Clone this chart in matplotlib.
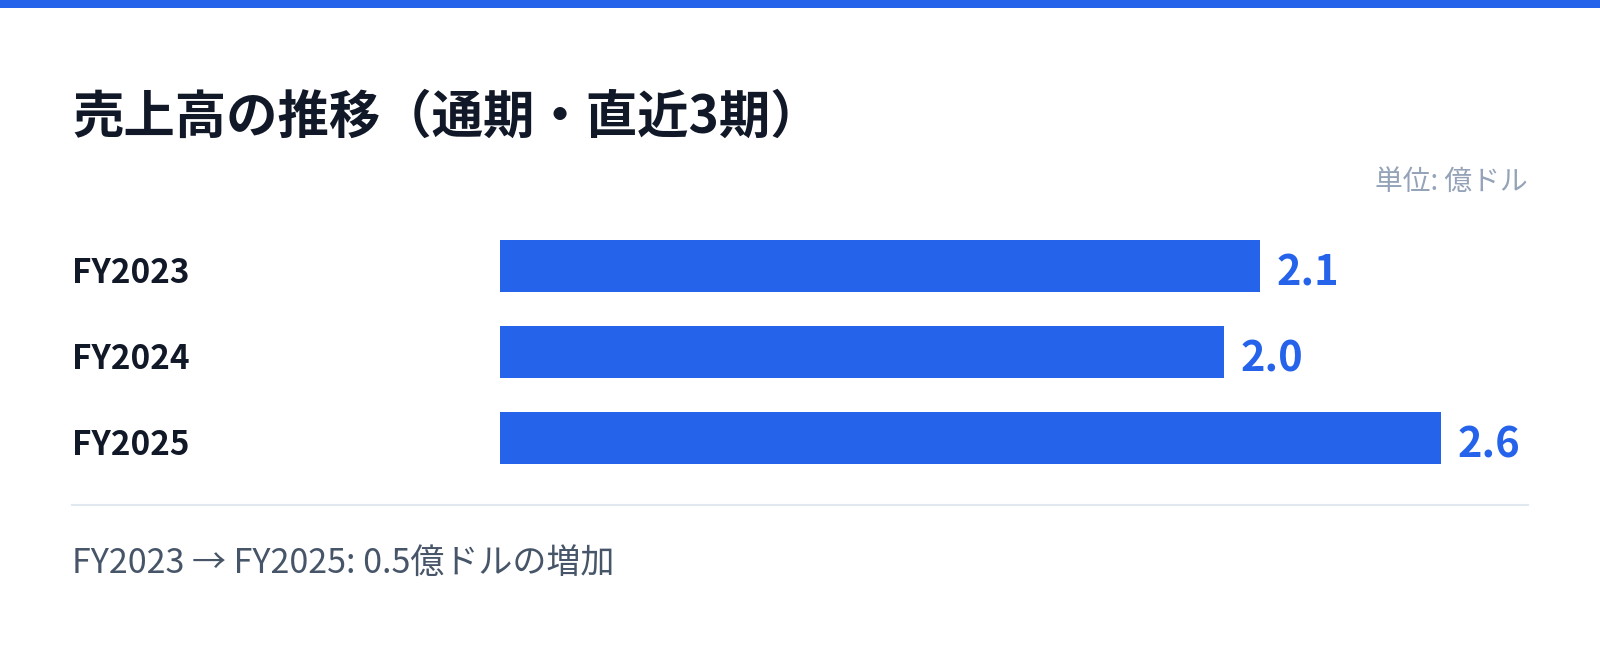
import matplotlib.pyplot as plt
from matplotlib.patches import Rectangle
from matplotlib.transforms import blended_transform_factory

plt.rcParams['font.family'] = ['Noto Sans CJK JP', 'DejaVu Sans']

# data
categories = ['FY2023', 'FY2024', 'FY2025']
sales = [2.1, 2.0, 2.6]
title = '売上高の推移（通期・直近3期）'
unit_label = '単位: 億ドル'
footer = 'FY2023 → FY2025: 0.5億ドルの増加'

blue = '#2563eb'
W, H = 1600, 647

fig = plt.figure(figsize=(16, 6.47), dpi=100)
fig.patch.set_facecolor('white')

# top accent band
fig.patches.append(Rectangle((0, 1 - 8 / H), 1, 8 / H, transform=fig.transFigure,
                             facecolor=blue, edgecolor='none'))

# bar area: x from 500px to 1528px, rows centred at 266/352/438px
ax_left, ax_right = 500, 1528
ax_top, ax_bot = 223, 481
ax = fig.add_axes([ax_left / W, 1 - ax_bot / H, (ax_right - ax_left) / W, (ax_bot - ax_top) / H])
y = list(range(len(categories)))
ax.barh(y, sales, height=52 / 86, color=blue, edgecolor='none')
ax.set_xlim(0, (ax_right - ax_left) / 361.9)
ax.set_ylim(len(categories) - 0.5, -0.5)
ax.axis('off')

# category labels, left aligned at figure margin
tr = blended_transform_factory(fig.transFigure, ax.transData)
for i, c in enumerate(categories):
    ax.annotate(c, xy=(72 / W, i), xycoords=tr, xytext=(0, -17), textcoords='offset pixels',
                ha='left', va='baseline', fontsize=24, fontweight='bold', color='#111827')

# value labels
for i, v in enumerate(sales):
    ax.annotate(f'{v:.1f}', xy=(v, i), xytext=(17, -19), textcoords='offset pixels',
                ha='left', va='baseline', fontsize=30, fontweight='bold', color=blue)

# title and unit
fig.text(72 / W, 1 - 133 / H, title, ha='left', va='baseline',
         fontsize=37, fontweight='bold', color='#111827')
fig.text(1528 / W, 1 - 190 / H, unit_label, ha='right', va='baseline',
         fontsize=20, color='#94a3b8')

# separator and footer
fig.add_artist(plt.Line2D([72 / W, 1528 / W], [1 - 505 / H, 1 - 505 / H],
                          transform=fig.transFigure, color='#e2e8f0', linewidth=1.5))
fig.text(72 / W, 1 - 573 / H, footer, ha='left', va='baseline',
         fontsize=24.5, color='#475569')

fig.savefig('out.png', dpi=100, facecolor='white')
